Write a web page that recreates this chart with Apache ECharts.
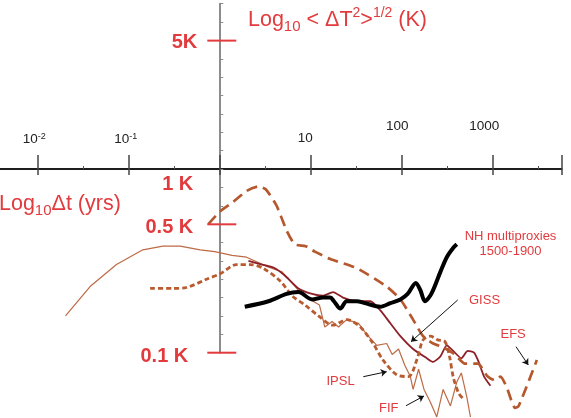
<!DOCTYPE html>
<html><head><meta charset="utf-8">
<script src="https://cdn.jsdelivr.net/npm/echarts@6/dist/echarts.min.js"></script>
<style>html,body{margin:0;padding:0;background:#fff}#c{width:571px;height:418px}</style>
</head><body><div id="c"></div>
<script>
// Values: log10 of time lag (yrs) and log10 of RMS fluctuation (K)
const fifLogDt  = [-1.69,-1.42,-1.13,-0.84,-0.62,-0.43,-0.21,-0.05,0.14,0.30,0.52,0.69,0.87,1.00,1.10,1.16,1.24,1.31,1.40,1.53,1.62,1.73,1.84,1.90,1.97,2.04,2.10,2.13,2.19,2.25,2.32,2.39,2.46,2.54,2.61,2.66,2.72,2.76];
const fifLogDT  = [-0.80,-0.64,-0.52,-0.44,-0.42,-0.42,-0.44,-0.45,-0.47,-0.48,-0.53,-0.56,-0.66,-0.71,-0.74,-0.86,-0.83,-0.86,-0.82,-0.84,-0.90,-0.96,-0.95,-1.01,-0.98,-1.07,-1.13,-1.20,-1.09,-1.20,-1.27,-1.35,-1.20,-1.29,-1.16,-1.11,-1.24,-1.35];
const gissLogDt = [0.32,0.47,0.61,0.72,0.87,1.02,1.14,1.25,1.36,1.51,1.66,1.77,1.88,1.99,2.13,2.28,2.35,2.43,2.50,2.57,2.66,2.73,2.80,2.85,2.91,2.98];
const gissLogDT = [-0.50,-0.52,-0.54,-0.58,-0.65,-0.68,-0.69,-0.67,-0.70,-0.72,-0.72,-0.77,-0.84,-0.91,-0.98,-1.03,-1.05,-1.02,-0.96,-0.99,-1.03,-0.99,-1.00,-1.05,-1.13,-1.18];
const nhLogDt   = [0.28,0.54,0.74,0.87,1.02,1.14,1.22,1.26,1.33,1.40,1.51,1.60,1.77,1.88,1.99,2.07,2.16,2.21,2.26,2.33,2.43,2.50,2.57,2.61];
const nhLogDT   = [-0.75,-0.72,-0.68,-0.67,-0.71,-0.70,-0.70,-0.72,-0.76,-0.72,-0.72,-0.73,-0.75,-0.73,-0.71,-0.68,-0.62,-0.66,-0.72,-0.68,-0.56,-0.48,-0.43,-0.41];
const ipslLogDt = [-0.76,-0.51,-0.36,-0.14,0.01,0.19,0.34,0.48,0.67,0.80,0.94,1.09,1.25,1.40,1.55,1.69,1.80,1.95,2.08,2.17,2.24,2.32,2.40,2.48,2.53,2.57,2.63,2.68];
const ipslLogDT = [-0.65,-0.65,-0.645,-0.60,-0.57,-0.52,-0.52,-0.54,-0.61,-0.69,-0.74,-0.80,-0.85,-0.82,-0.86,-0.95,-1.04,-1.12,-1.13,-1.04,-0.93,-0.91,-0.93,-0.94,-1.02,-1.13,-1.22,-1.25];
const efsLogDt  = [-0.12,0.01,0.15,0.30,0.43,0.51,0.63,0.74,0.83,0.95,1.05,1.22,1.51,1.84,1.99,2.13,2.24,2.35,2.46,2.59,2.70,2.84,2.95,3.03,3.09,3.16,3.25,3.29,3.49];
const efsLogDT  = [-0.30,-0.23,-0.18,-0.12,-0.095,-0.11,-0.20,-0.335,-0.41,-0.42,-0.45,-0.49,-0.54,-0.64,-0.71,-0.82,-0.91,-0.95,-0.97,-1.01,-1.06,-1.06,-1.13,-1.15,-1.13,-1.19,-1.30,-1.29,-1.04];

// Tick labels
const xTickValues = [-2, -1, 1, 2, 3];
const xTickBase   = ['10', '10', '10', '100', '1000'];
const xTickExp    = ['-2', '-1', '', '', ''];
const yMarkValues = [5, 1, 0.5, 0.1];
const yMarkTexts  = ['5K', '1 K', '0.5 K', '0.1 K'];

// label placement (pixel offsets, styling only)
const xTickDx = [-3, -2.5, -5, -4, -8];
const xTickDy = [-30, -30, -31, -43, -43];
const yMarkTick = [true, false, true, true];
const yMarkDx = [-22, -26, -26, -31];
const yMarkDy = [1.5, 15.5, 3.5, 4];

const RED = '#e23b3e';
const FONT = 'Liberation Sans';
const pairs = (xs, ys) => xs.map((x, i) => [x, ys[i]]);

const chart = echarts.init(document.getElementById('c'), null, {renderer: 'canvas'});
const option = {
  animation: false,
  backgroundColor: '#ffffff',
  grid: {left: -53.7, right: 9.3, top: 3.7, bottom: 65.3, containLabel: false, outerBoundsMode: 'none'},
  xAxis: [
    {type: 'value', min: -3, max: 3.763, interval: 1, position: 'bottom',
     axisLine: {onZero: true, onZeroAxisIndex: 0, lineStyle: {color: '#111', width: 1.5}},
     axisTick: {show: true, inside: false, length: 6, lineStyle: {color: '#444', width: 1.5}},
     axisLabel: {show: false}, splitLine: {show: false}},
    {type: 'value', min: -3, max: 3.763, interval: 1, position: 'top',
     axisLine: {onZero: true, onZeroAxisIndex: 1, lineStyle: {color: '#111', width: 1.5}},
     axisTick: {show: true, inside: false, length: 14, lineStyle: {color: '#444', width: 1.5}},
     minorTick: {show: true, splitNumber: 2, length: 3, lineStyle: {color: '#555', width: 1}},
     axisLabel: {show: false}, splitLine: {show: false}}
  ],
  yAxis: [
    {type: 'value', min: -1, max: 0.9, interval: 0.1,
     axisLine: {onZero: true, onZeroAxisIndex: 0, lineStyle: {color: '#8c8c8c', width: 2}},
     axisTick: {show: true, inside: true, length: 4, lineStyle: {color: '#8c8c8c', width: 1}},
     axisLabel: {show: false}, splitLine: {show: false}},
    {type: 'value', min: -1, max: 0.9, interval: 0.1, position: 'right',
     axisLine: {show: false, onZero: false}, axisTick: {show: false},
     axisLabel: {show: false}, splitLine: {show: false}}
  ],
  series: [
    {name: 'FIF', type: 'line', data: pairs(fifLogDt, fifLogDT), showSymbol: false, clip: false,
     lineStyle: {color: '#bd6a45', width: 1.2}, z: 2},
    {name: 'GISS', type: 'line', data: pairs(gissLogDt, gissLogDT), showSymbol: false, clip: false, smooth: 0.2,
     lineStyle: {color: '#8e1f27', width: 1.8}, z: 3},
    {name: 'IPSL', type: 'line', data: pairs(ipslLogDt, ipslLogDT), showSymbol: false, clip: false, smooth: 0.3,
     lineStyle: {color: '#b95b30', width: 2.8, type: [5, 3]}, z: 4},
    {name: 'EFS', type: 'line', data: pairs(efsLogDt, efsLogDT), showSymbol: false, clip: false, smooth: 0.2,
     lineStyle: {color: '#b5582e', width: 2.7, type: [11, 6]}, z: 4},
    {name: 'NH multiproxies', type: 'line', data: pairs(nhLogDt, nhLogDT), showSymbol: false, clip: false, smooth: 0.3,
     lineStyle: {color: '#000', width: 4}, z: 6,
     markLine: {silent: true, symbol: ['none', 'arrow'], symbolSize: 6, animation: false,
       label: {show: false}, emphasis: {disabled: true},
       lineStyle: {color: '#111', width: 1, type: 'solid'},
       data: [
         [{x: 457.7, y: 300}, {x: 411, y: 341.7}],
         [{x: 516, y: 346.7}, {x: 528.3, y: 365}],
         [{x: 363.3, y: 376.7}, {x: 386.7, y: 371.7}],
         [{x: 406, y: 405.7}, {x: 424, y: 396}]
       ]}},
    {name: 'xTickLabels', type: 'custom', clip: false, z: 10, silent: true,
     data: xTickValues.map(v => [v, 0]),
     renderItem: function (params, api) {
       const i = params.dataIndex;
       const p = api.coord([api.value(0), 0]);
       const txt = '{b|' + xTickBase[i] + '}' + (xTickExp[i] ? '{s|' + xTickExp[i] + '}' : '');
       return {type: 'text', style: {text: txt, x: p[0] + xTickDx[i], y: p[1] + xTickDy[i],
         align: 'center', verticalAlign: 'middle',
         rich: {
           b: {fontSize: 13.5, fontFamily: FONT, fill: '#222', lineHeight: 14},
           s: {fontSize: 9, fontFamily: FONT, fill: '#222', lineHeight: 10, verticalAlign: 'top'}
         }}};
     }},
    {name: 'yMarks', type: 'custom', clip: false, z: 10, silent: true,
     data: yMarkValues.map(v => [0, Math.log10(v)]),
     renderItem: function (params, api) {
       const i = params.dataIndex;
       const p = api.coord([0, api.value(1)]);
       const children = [];
       if (yMarkTick[i]) {
         children.push({type: 'line', shape: {x1: p[0] - 12, y1: p[1], x2: p[0] + 17, y2: p[1]},
           style: {stroke: RED, lineWidth: 2}});
       }
       children.push({type: 'text', style: {text: yMarkTexts[i], x: p[0] + yMarkDx[i], y: p[1] + yMarkDy[i],
         align: 'right', verticalAlign: 'middle', fill: RED, font: 'bold 20px "' + FONT + '"'}});
       return {type: 'group', children: children};
     }}
  ],
  graphic: [
    {type: 'text', x: 248, y: 20, silent: true, style: {
      text: '{m|Log}{sub|10}{m| < ΔT}{sup|2}{m|>}{sup|1/2}{m| (K)}', verticalAlign: 'middle',
      rich: {
        m: {fontSize: 21.5, fontFamily: FONT, fill: RED, lineHeight: 28},
        sub: {fontSize: 15, fontFamily: FONT, fill: RED, lineHeight: 14, verticalAlign: 'bottom'},
        sup: {fontSize: 14, fontFamily: FONT, fill: RED, lineHeight: 15, verticalAlign: 'top'}
      }}},
    {type: 'text', x: -1, y: 204, silent: true, style: {
      text: '{m|Log}{sub|10}{m|Δt (yrs)}', verticalAlign: 'middle',
      rich: {
        m: {fontSize: 21.5, fontFamily: FONT, fill: RED, lineHeight: 28},
        sub: {fontSize: 15, fontFamily: FONT, fill: RED, lineHeight: 14, verticalAlign: 'bottom'}
      }}},
    {type: 'text', x: 510.5, y: 244, silent: true, style: {text: 'NH multiproxies\n1500-1900', align: 'center',
      verticalAlign: 'middle', fill: RED, fontSize: 13, fontFamily: FONT, lineHeight: 15}},
    {type: 'text', x: 469, y: 300, silent: true, style: {text: 'GISS', verticalAlign: 'middle', fill: RED, fontSize: 13, fontFamily: FONT}},
    {type: 'text', x: 500.5, y: 334, silent: true, style: {text: 'EFS', verticalAlign: 'middle', fill: RED, fontSize: 13, fontFamily: FONT}},
    {type: 'text', x: 326.5, y: 381, silent: true, style: {text: 'IPSL', verticalAlign: 'middle', fill: RED, fontSize: 13, fontFamily: FONT}},
    {type: 'text', x: 379, y: 408.5, silent: true, style: {text: 'FIF', verticalAlign: 'middle', fill: RED, fontSize: 13, fontFamily: FONT}}
  ]
};
chart.setOption(option);
</script>
</body></html>
